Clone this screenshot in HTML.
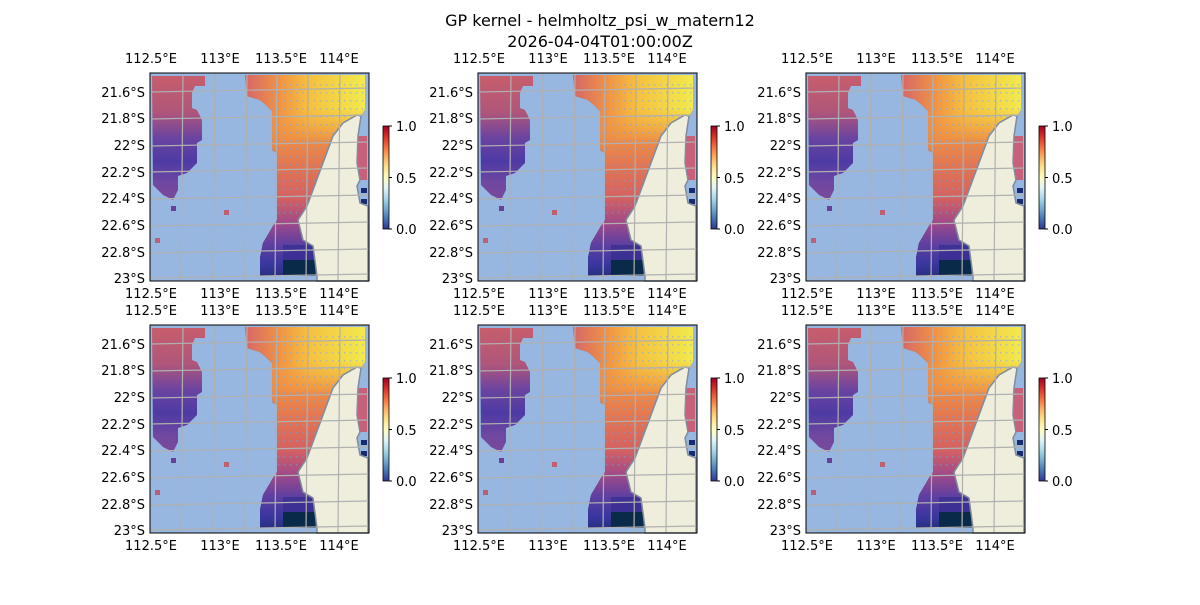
<!DOCTYPE html>
<html><head><meta charset="utf-8"><style>
body{margin:0;background:#fff;}
svg text{font-family:"DejaVu Sans","Liberation Sans",sans-serif;fill:#000;}
</style></head><body>
<svg width="1200" height="600" viewBox="0 0 1200 600" xmlns="http://www.w3.org/2000/svg">
<defs>
<linearGradient id="gl" x1="0" y1="0" x2="0" y2="130" gradientUnits="userSpaceOnUse">
<stop offset="0" stop-color="#c85e6a"/><stop offset="0.3" stop-color="#b0567a"/><stop offset="0.5" stop-color="#6a44a0"/><stop offset="0.68" stop-color="#4e3aa4"/><stop offset="0.85" stop-color="#7048a0"/><stop offset="1" stop-color="#7a4a98"/>
</linearGradient>
<linearGradient id="gr" x1="0" y1="0" x2="0" y2="208" gradientUnits="userSpaceOnUse">
<stop offset="0" stop-color="#f5b040"/><stop offset="0.3" stop-color="#ef9045"/><stop offset="0.45" stop-color="#e27552"/><stop offset="0.6" stop-color="#d46262"/><stop offset="0.72" stop-color="#a04a88"/><stop offset="0.82" stop-color="#6040a0"/><stop offset="0.92" stop-color="#3a36a0"/><stop offset="1" stop-color="#202e70"/>
</linearGradient>
<linearGradient id="gh" x1="90" y1="0" x2="215" y2="0" gradientUnits="userSpaceOnUse">
<stop offset="0" stop-color="#d06070"/><stop offset="0.3" stop-color="#f09045"/><stop offset="0.55" stop-color="#f5c040"/><stop offset="1" stop-color="#f2ea4c"/>
</linearGradient>
<linearGradient id="fade" x1="0" y1="0" x2="0" y2="70" gradientUnits="userSpaceOnUse">
<stop offset="0" stop-color="#fff"/><stop offset="0.5" stop-color="#fff"/><stop offset="1" stop-color="#000"/>
</linearGradient>
<mask id="m"><rect x="0" y="0" width="219" height="70" fill="url(#fade)"/></mask>
<pattern id="dots" width="6" height="8" patternUnits="userSpaceOnUse"><rect x="2" y="3" width="1.2" height="1.5" fill="#7aa0d8" opacity="0.8"/></pattern>
<linearGradient id="cb" x1="0" y1="1" x2="0" y2="0">
<stop offset="0" stop-color="#313695"/><stop offset="0.1" stop-color="#4575b4"/><stop offset="0.2" stop-color="#74add1"/><stop offset="0.3" stop-color="#abd9e9"/><stop offset="0.4" stop-color="#e0f3f8"/><stop offset="0.5" stop-color="#ffffbf"/><stop offset="0.6" stop-color="#fee090"/><stop offset="0.7" stop-color="#fdae61"/><stop offset="0.8" stop-color="#f46d43"/><stop offset="0.9" stop-color="#d73027"/><stop offset="1" stop-color="#a50026"/>
</linearGradient>
<g id="panel">
<rect x="0" y="0" width="219" height="208" fill="#97b6e0"/>
<polygon fill="url(#gl)" points="2,3 55,3 55,13 45,13 42,20 42,35 47,37 52,47 52,67 47,70 47,90 37,100 28,103 28,117 23,127 13,122 3,112"/>
<rect x="21" y="133" width="5" height="5" fill="#6a3f98"/>
<rect x="74" y="137" width="5" height="5" fill="#c0606c"/>
<rect x="5" y="165" width="5" height="5" fill="#b8607a"/>
<g id="rr">
<polygon id="rp" points="90,2 215,2 215,37 211,43 207,42 193,50 183,63 173,90 163,117 157,133 148,147 153,167 163,173 167,203 110,203 110,185 113,170 123,153 127,147 127,80 122,77 122,38 117,33 110,27 97,23 95,2"/>
</g>
<polygon fill="url(#gr)" points="90,2 215,2 215,37 211,43 207,42 193,50 183,63 173,90 163,117 157,133 148,147 153,167 163,173 167,203 110,203 110,185 113,170 123,153 127,147 127,80 122,77 122,38 117,33 110,27 97,23 95,2"/>
<polygon fill="url(#gh)" mask="url(#m)" points="90,2 215,2 215,37 211,43 207,42 193,50 183,63 173,90 163,117 157,133 148,147 153,167 163,173 167,203 110,203 110,185 113,170 123,153 127,147 127,80 122,77 122,38 117,33 110,27 97,23 95,2"/>
<polygon fill="url(#dots)" opacity="0.7" points="122,5 215,5 215,37 193,50 183,63 173,90 163,117 157,133 148,147 127,147 127,80 122,77"/>
<rect x="133" y="172" width="30" height="16" fill="#3a2e92" opacity="0.8"/>
<rect x="133" y="187" width="32" height="16" fill="#0a2a4a"/>
<rect x="207" y="63" width="10" height="44" fill="#c8607a"/>
<rect x="211" y="115" width="6" height="5" fill="#1a2a70"/>
<rect x="211" y="126" width="6" height="5" fill="#1a2a70"/>
<polygon fill="#efeedd" stroke="#7f8c9c" stroke-width="1.5" points="211,43 208,63 207,90 210,107 207,113 210,130 218,133 218,208 167,208 167,203 163,173 153,167 148,147 157,133 163,117 173,90 183,63 193,50 207,42"/>
<g stroke="#b0b0b0" stroke-width="1.2" fill="none">
<line x1="33" y1="0" x2="31" y2="208"/><line x1="65" y1="0" x2="63" y2="208"/><line x1="97" y1="0" x2="95" y2="208"/><line x1="127" y1="0" x2="125" y2="208"/><line x1="158" y1="0" x2="156" y2="208"/><line x1="190" y1="0" x2="188" y2="208"/>
<line x1="0" y1="19" x2="219" y2="15"/><line x1="0" y1="46" x2="219" y2="42"/><line x1="0" y1="73" x2="219" y2="69"/><line x1="0" y1="99" x2="219" y2="95"/><line x1="0" y1="126" x2="219" y2="122"/><line x1="0" y1="153" x2="219" y2="149"/><line x1="0" y1="180" x2="219" y2="176"/><line x1="0" y1="205" x2="219" y2="201"/>
</g>
<rect x="0" y="0" width="219" height="208" fill="none" stroke="#000" stroke-width="1"/>
</g>
<g id="cbar">
<rect x="0" y="0" width="6" height="103" fill="url(#cb)" stroke="#000" stroke-width="0.8"/>
<g stroke="#000"><line x1="6" y1="0" x2="9" y2="0"/><line x1="6" y1="51.5" x2="9" y2="51.5"/><line x1="6" y1="103" x2="9" y2="103"/></g>
</g>
</defs>
<text x="600" y="26" font-size="16" text-anchor="middle">GP kernel - helmholtz_psi_w_matern12</text>
<text x="600" y="47" font-size="16" text-anchor="middle">2026-04-04T01:00:00Z</text>

<g font-size="13">
<g transform="translate(150,73)"><use href="#panel"/></g>
<g transform="translate(478,73)"><use href="#panel"/></g>
<g transform="translate(806,73)"><use href="#panel"/></g>
<g transform="translate(150,325)"><use href="#panel"/></g>
<g transform="translate(478,325)"><use href="#panel"/></g>
<g transform="translate(806,325)"><use href="#panel"/></g>

<g id="cbl" transform="translate(383,126)"><use href="#cbar"/><text x="13" y="5">1.0</text><text x="13" y="57">0.5</text><text x="13" y="108">0.0</text></g>
<use href="#cbl" x="328"/><use href="#cbl" x="656"/>
<use href="#cbl" y="252"/><use href="#cbl" x="328" y="252"/><use href="#cbl" x="656" y="252"/>

<g id="lab" text-anchor="middle">
<text x="151" y="63">112.5°E</text><text x="220" y="63">113°E</text><text x="281" y="63">113.5°E</text><text x="339" y="63">114°E</text>
<text x="151" y="298">112.5°E</text><text x="220" y="298">113°E</text><text x="281" y="298">113.5°E</text><text x="339" y="298">114°E</text>
<g text-anchor="end">
<text x="145" y="97">21.6°S</text><text x="145" y="123">21.8°S</text><text x="145" y="150">22°S</text><text x="145" y="177">22.2°S</text><text x="145" y="203">22.4°S</text><text x="145" y="230">22.6°S</text><text x="145" y="257">22.8°S</text><text x="145" y="283">23°S</text>
</g>
</g>
<use href="#lab" x="328"/><use href="#lab" x="656"/>
<use href="#lab" y="252"/><use href="#lab" x="328" y="252"/><use href="#lab" x="656" y="252"/>
</g>
</svg>
</body></html>
